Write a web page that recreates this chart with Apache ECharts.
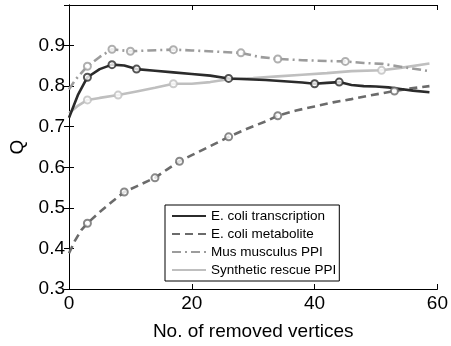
<!DOCTYPE html>
<html>
<head>
<meta charset="utf-8">
<script src="https://cdn.jsdelivr.net/npm/echarts@6/dist/echarts.min.js"></script>
<style>
  html, body { margin: 0; padding: 0; background: #fff; }
  #chart { width: 451px; height: 346px; }
</style>
</head>
<body>
<div id="chart"></div>
<script>
// series names
var names = ['E. coli transcription', 'E. coli metabolite', 'Mus musculus PPI', 'Synthetic rescue PPI'];

// curves (x = removed vertices, y = Q)
var transX = [0, 1.5, 3, 5, 7, 9, 11, 14, 17, 20, 23, 26, 29, 32, 35, 38, 40, 42, 44, 46, 48, 50, 52, 54, 56, 58.7];
var transY = [0.722, 0.78, 0.822, 0.842, 0.853, 0.851, 0.842, 0.838, 0.834, 0.830, 0.826, 0.819, 0.817, 0.815, 0.812, 0.809, 0.806, 0.808, 0.810, 0.803, 0.800, 0.799, 0.797, 0.793, 0.789, 0.785];
var metabX = [0, 1, 2, 3, 5, 7, 9, 11, 14, 16, 18, 20, 23, 26, 29, 32, 34, 37, 40, 43, 46, 49, 53, 55, 58.7];
var metabY = [0.388, 0.42, 0.445, 0.462, 0.49, 0.515, 0.539, 0.553, 0.574, 0.595, 0.615, 0.63, 0.652, 0.675, 0.695, 0.713, 0.727, 0.74, 0.75, 0.76, 0.768, 0.777, 0.788, 0.793, 0.80];
var musX = [0, 1, 3, 5, 7, 10, 13, 17, 20, 24, 28, 31, 34, 38, 42, 45, 48, 51, 54, 58.7];
var musY = [0.792, 0.815, 0.849, 0.872, 0.891, 0.886, 0.888, 0.89, 0.888, 0.885, 0.882, 0.872, 0.867, 0.864, 0.862, 0.861, 0.857, 0.855, 0.848, 0.837];
var synX = [0, 1.5, 3, 5, 8, 11, 14, 17, 20, 23, 26, 30, 34, 38, 42, 46, 50.9, 54, 58.7];
var synY = [0.733, 0.752, 0.766, 0.771, 0.778, 0.787, 0.796, 0.806, 0.806, 0.81, 0.817, 0.82, 0.824, 0.828, 0.832, 0.837, 0.839, 0.845, 0.856];

// marker positions
var transMX = [3, 7, 11, 26, 40, 44];
var transMY = [0.822, 0.853, 0.842, 0.819, 0.806, 0.810];
var metabMX = [3, 9, 14, 18, 26, 34, 53];
var metabMY = [0.462, 0.539, 0.574, 0.615, 0.675, 0.727, 0.788];
var musMX = [3, 7, 10, 17, 28, 34, 45];
var musMY = [0.849, 0.891, 0.886, 0.89, 0.882, 0.867, 0.861];
var synMX = [3, 8, 17, 50.9];
var synMY = [0.766, 0.778, 0.806, 0.839];

var colors = ['#2b2b2b', '#6b6b6b', '#9c9c9c', '#bfbfbf'];
var dashes = ['solid', [8, 5], [9, 4, 2, 4], 'solid'];

function pairs(xs, ys) {
    return xs.map(function (x, i) { return [x, ys[i]]; });
}

var curves = [pairs(transX, transY), pairs(metabX, metabY), pairs(musX, musY), pairs(synX, synY)];
var marks = [pairs(transMX, transMY), pairs(metabMX, metabMY), pairs(musMX, musMY), pairs(synMX, synMY)];

var font = 'Liberation Sans, Arial, sans-serif';
var series = [];
// lightest first so the dark line sits on top
[3, 2, 1, 0].forEach(function (i) {
    series.push({
        name: names[i],
        type: 'line',
        data: curves[i],
        symbol: 'none',
        lineStyle: { color: colors[i], width: 2.6, type: dashes[i] },
        itemStyle: { color: colors[i] },
        z: 2 + (3 - i)
    });
    series.push({
        name: names[i] + ' markers',
        type: 'scatter',
        data: marks[i],
        symbol: 'circle',
        symbolSize: 7,
        itemStyle: { color: '#fff', borderColor: colors[i], borderWidth: 2 },
        z: 3 + (3 - i)
    });
});

var chart = echarts.init(document.getElementById('chart'));
chart.setOption({
    animation: false,
    textStyle: { fontFamily: font },
    grid: { left: 66, right: 10, top: 5, bottom: 55 },
    legend: {
        data: names,
        orient: 'vertical',
        left: 165,
        top: 205,
        padding: [4, 3, 4, 6],
        itemWidth: 34,
        itemHeight: 14,
        itemGap: 4,
        borderColor: '#000',
        borderWidth: 1,
        backgroundColor: '#fff',
        itemStyle: { opacity: 0 },
        textStyle: { fontSize: 13.5, color: '#000', fontFamily: font }
    },
    xAxis: [{
        type: 'value', min: 0, max: 60, interval: 20,
        name: 'No. of removed vertices', nameLocation: 'middle', nameGap: 33,
        nameTextStyle: { fontSize: 19, color: '#000' },
        axisLine: { lineStyle: { color: '#000', width: 1 } },
        axisTick: { inside: true, length: 5, lineStyle: { color: '#000' } },
        axisLabel: { fontSize: 19, color: '#000', margin: 5 },
        splitLine: { show: false }
    }, {
        type: 'value', min: 0, max: 60, interval: 20, position: 'top',
        axisLine: { lineStyle: { color: '#000', width: 1 } },
        axisTick: { inside: true, length: 5, lineStyle: { color: '#000' } },
        axisLabel: { show: false },
        splitLine: { show: false }
    }],
    yAxis: [{
        type: 'value', min: 0.3, max: 1.0, interval: 0.1,
        name: 'Q', nameLocation: 'middle', nameGap: 42,
        nameTextStyle: { fontSize: 19, color: '#000' },
        axisLine: { show: true, lineStyle: { color: '#000', width: 1 } },
        axisTick: { show: true, inside: true, length: 5, lineStyle: { color: '#000' } },
        axisLabel: {
            fontSize: 19, color: '#000', margin: 4,
            formatter: function (v) { return v > 0.95 ? '' : v.toFixed(1); }
        },
        splitLine: { show: false }
    }, {
        type: 'value', min: 0.3, max: 1.0, interval: 0.1, position: 'right',
        axisLine: { show: true, lineStyle: { color: '#000', width: 1 } },
        axisTick: { show: true, inside: true, length: 5, lineStyle: { color: '#000' } },
        axisLabel: { show: false },
        splitLine: { show: false }
    }],
    series: series
});
</script>
</body>
</html>
